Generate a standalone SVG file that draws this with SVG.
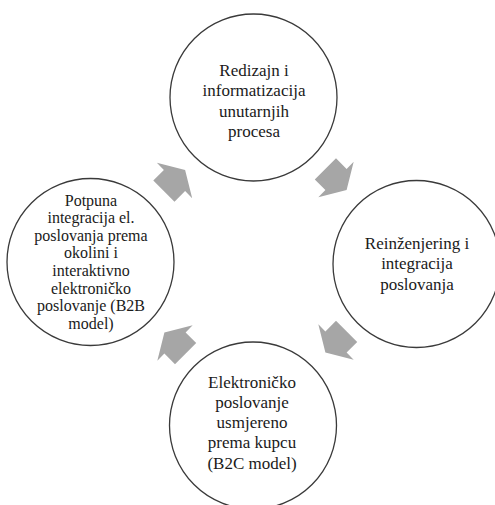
<svg xmlns="http://www.w3.org/2000/svg" width="495" height="505" viewBox="0 0 495 505">
<style>
.node circle{fill:#ffffff;stroke:#3a3a3a;stroke-width:1.3}
.node text{font-family:"Liberation Serif","Times New Roman",serif;fill:#1a1a1a;text-anchor:middle}
.t17{font-size:17px}
.t16{font-size:16px}
.arrow{fill:#a6a6a6}
</style>
<defs>
<path id="arr" d="M-15,-15 L0,-15 L0,-25 L15,0 L0,25 L0,15 L-15,15 Z"/>
</defs>
<rect width="495" height="505" fill="#ffffff"/>
<g id="connectors">
<use href="#arr" class="arrow" transform="translate(174.5,180.5) rotate(-45)"/>
<use href="#arr" class="arrow" transform="translate(336,179.5) rotate(45)"/>
<use href="#arr" class="arrow" transform="translate(336,342) rotate(135)"/>
<use href="#arr" class="arrow" transform="translate(175,343) rotate(-135)"/>
</g>
<g id="node-top" class="node">
<circle cx="253.5" cy="97.5" r="83.5"/>
<text class="t17" x="254"><tspan x="254" y="76">Redizajn i</tspan><tspan x="254" y="96.3">informatizacija</tspan><tspan x="254" y="116.7">unutarnjih</tspan><tspan x="254" y="137">procesa</tspan></text>
</g>
<g id="node-right" class="node">
<circle cx="416.5" cy="264" r="83.5"/>
<text class="t17" x="417"><tspan x="417" y="249">Reinženjering i</tspan><tspan x="417" y="269.3">integracija</tspan><tspan x="417" y="289.6">poslovanja</tspan></text>
</g>
<g id="node-bottom" class="node">
<circle cx="253" cy="425.5" r="83.5"/>
<text class="t17" x="252"><tspan x="252" y="387.7">Elektroničko</tspan><tspan x="252" y="407.9">poslovanje</tspan><tspan x="252" y="428.1">usmjereno</tspan><tspan x="252" y="448.3">prema kupcu</tspan><tspan x="252" y="468.5">(B2C model)</tspan></text>
</g>
<g id="node-left" class="node">
<circle cx="90.5" cy="262" r="83.5"/>
<text class="t16" x="91"><tspan x="91" y="205.5">Potpuna</tspan><tspan x="91" y="223.1">integracija el.</tspan><tspan x="91" y="240.7">poslovanja prema</tspan><tspan x="91" y="258.3">okolini i</tspan><tspan x="91" y="275.9">interaktivno</tspan><tspan x="91" y="293.5">elektroničko</tspan><tspan x="91" y="311.1">poslovanje (B2B</tspan><tspan x="91" y="328.7">model)</tspan></text>
</g>
</svg>
